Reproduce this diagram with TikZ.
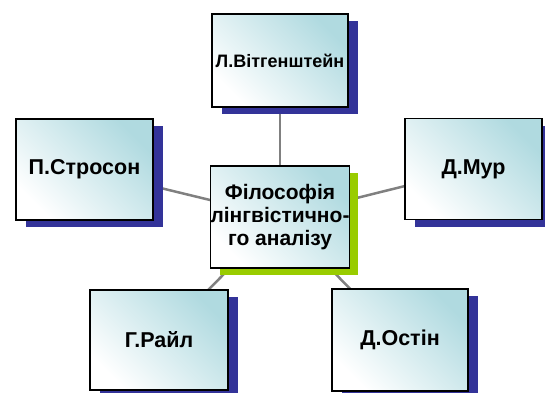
\documentclass[tikz,border=0pt]{standalone}
\usepackage{fontspec}
\setmainfont{Liberation Sans}
\usetikzlibrary{shadows,backgrounds}
\definecolor{tealc}{RGB}{176,218,224}
\definecolor{shblue}{RGB}{51,51,153}
\definecolor{shgreen}{RGB}{153,204,0}
\definecolor{linec}{RGB}{128,128,128}
\begin{document}
\begin{tikzpicture}[x=1pt,y=-1pt,
  box/.style={draw=black, line width=1.7pt, left color=white, right color=tealc,
    shading angle=135, minimum width=137pt, minimum height=101pt,
    font=\bfseries\fontsize{21.5}{23}\selectfont, align=center, inner sep=0pt},
  bshadow/.style={general shadow={fill=shblue, shadow xshift=10pt, shadow yshift=-7pt}},
  gshadow/.style={general shadow={fill=shgreen, shadow xshift=9pt, shadow yshift=-7pt}},
  link/.style={draw=linec, line width=2.5pt}]
\useasboundingbox (0,0) rectangle (545,392);
\node[box, bshadow, minimum width=136pt, minimum height=93pt,
  font=\bfseries\fontsize{18}{20}\selectfont] (w) at (280,60.5) {Л.Вітгенштейн};
\node[box, bshadow] (s) at (84.5,169.5) {П.Стросон};
\node[box, bshadow] (m) at (473.5,169) {Д.Мур};
\node[box, bshadow, minimum width=138pt, minimum height=100pt] (r) at (159,340) {Г.Райл};
\node[box, bshadow, minimum width=136pt, minimum height=102pt] (o) at (400,340) {Д.Остін};
\node[box, gshadow, minimum width=136pt, minimum height=102pt,
  font=\bfseries\fontsize{21}{23}\selectfont] (c) at (280,217) {Філософія\\лінгвістично-\\го аналізу};
\begin{scope}[on background layer]
  \draw[link] (c.center) -- (w.center);
  \draw[link] (c.center) -- (s.center);
  \draw[link] (c.center) -- (m.center);
  \draw[link] (c.center) -- (r.center);
  \draw[link] (c.center) -- (o.center);
\end{scope}
\end{tikzpicture}
\end{document}
